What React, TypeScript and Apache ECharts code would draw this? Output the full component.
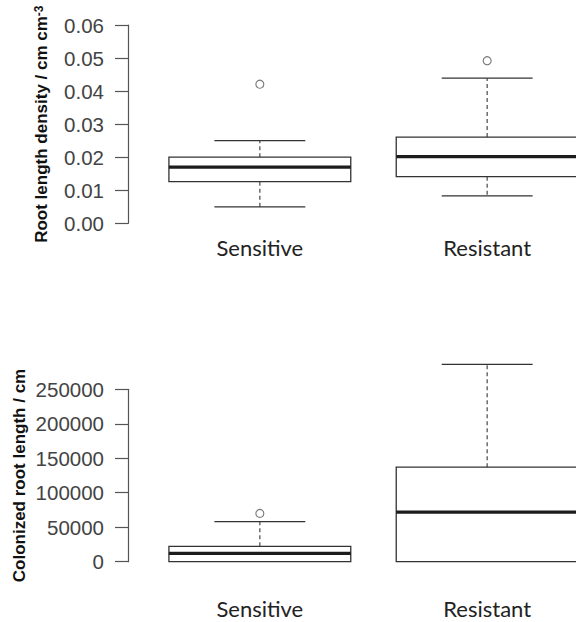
import React, { useEffect, useRef } from "react";
import * as echarts from "echarts";

const categories = ["Sensitive", "Resistant"];

// Root length density (cm cm^-3)
const densityLow = [0.005, 0.0083];
const densityQ1 = [0.0126, 0.0141];
const densityMedian = [0.017, 0.0202];
const densityQ3 = [0.02, 0.0261];
const densityHigh = [0.025, 0.0439];
const densityOutliers: [number, number][] = [
  [1, 0.0421],
  [2, 0.0492],
];

// Colonized root length (cm)
const colonLow = [0, 0];
const colonQ1 = [0, 0];
const colonMedian = [12200, 72000];
const colonQ3 = [22300, 137000];
const colonHigh = [58000, 286000];
const colonOutliers: [number, number][] = [[1, 70000]];

const densityTicks = { min: 0, max: 0.06, interval: 0.01 };
const colonTicks = { min: 0, max: 250000, interval: 50000 };

const boxRows = (lo: number[], q1: number[], md: number[], q3: number[], hi: number[]) =>
  categories.map((_, i) => [i + 1, lo[i], q1[i], md[i], q3[i], hi[i]]);

const renderBox = (params: any, api: any) => {
  const x = api.value(0);
  const pLo = api.coord([x, api.value(1)]);
  const pQ1 = api.coord([x, api.value(2)]);
  const pMd = api.coord([x, api.value(3)]);
  const pQ3 = api.coord([x, api.value(4)]);
  const pHi = api.coord([x, api.value(5)]);
  const half = api.size([0.4, 0])[0];
  const cap = half / 2;
  const cx = pMd[0];
  const whisk = { stroke: "#555", lineWidth: 1.3, lineDash: [4, 3] };
  const solid = { stroke: "#333", lineWidth: 1.3 };
  const children: any[] = [];
  if (pHi[1] < pQ3[1]) {
    children.push({ type: "line", shape: { x1: cx, y1: pQ3[1], x2: cx, y2: pHi[1] }, style: whisk });
    children.push({ type: "line", shape: { x1: cx - cap, y1: pHi[1], x2: cx + cap, y2: pHi[1] }, style: solid });
  }
  if (pLo[1] > pQ1[1]) {
    children.push({ type: "line", shape: { x1: cx, y1: pQ1[1], x2: cx, y2: pLo[1] }, style: whisk });
    children.push({ type: "line", shape: { x1: cx - cap, y1: pLo[1], x2: cx + cap, y2: pLo[1] }, style: solid });
  }
  children.push({
    type: "rect",
    shape: { x: cx - half, y: pQ3[1], width: 2 * half, height: pQ1[1] - pQ3[1] },
    style: { fill: "#fff", stroke: "#333", lineWidth: 1.3 },
  });
  children.push({
    type: "line",
    shape: { x1: cx - half, y1: pMd[1], x2: cx + half, y2: pMd[1] },
    style: { stroke: "#1c1c1c", lineWidth: 3.2 },
  });
  return { type: "group", children };
};

const tickFont = { fontFamily: "Liberation Sans, Arial, sans-serif", fontSize: 20.5, color: "#444" };
const titleBase = { fontFamily: "Liberation Sans, Arial, sans-serif", fontWeight: "bold" as const, color: "#111" };

export default function App() {
  const ref = useRef<HTMLDivElement>(null);
  useEffect(() => {
    if (!ref.current) return;
    const chart = echarts.init(ref.current, undefined, { renderer: "svg" });
    const xAxisBase = (margin: number, gridIndex: number) => ({
      type: "value" as const,
      gridIndex,
      min: 0.42,
      max: 2.58,
      axisLine: { show: false },
      axisTick: { show: false },
      splitLine: { show: false },
      axisLabel: {
        customValues: [1, 2],
        formatter: (v: number) => categories[Math.round(v) - 1] ?? "",
        fontFamily: "Lato, sans-serif",
        fontSize: 22,
        color: "#222",
        margin,
      },
    });
    const yAxisBase = (gridIndex: number, ticks: any, name: string, nameGap: number, rich: any) => ({
      type: "value" as const,
      gridIndex,
      min: ticks.min,
      max: ticks.max,
      interval: ticks.interval,
      axisLine: { show: true, lineStyle: { color: "#555", width: 1.2 } },
      axisTick: { show: true, inside: false, length: 13, lineStyle: { color: "#555", width: 1.2 } },
      splitLine: { show: false },
      axisLabel: {
        ...tickFont,
        margin: 24,
        formatter: (v: number) => (ticks.max < 1 ? v.toFixed(2) : String(v)),
      },
      name,
      nameLocation: "middle" as const,
      nameRotate: 90,
      nameGap,
      nameMoveOverlap: false,
      nameTextStyle: { ...titleBase, fontSize: 17, rich },
    });
    chart.setOption({
      animation: false,
      grid: [
        { left: 128, top: 25, width: 491, height: 198.3, outerBoundsMode: "none", containLabel: false },
        { left: 128, top: 389.3, width: 491, height: 172.4, outerBoundsMode: "none", containLabel: false },
      ],
      xAxis: [xAxisBase(13, 0), xAxisBase(36, 1)],
      yAxis: [
        yAxisBase(0, densityTicks, "{a|Root length density / cm cm}{s|-3}", 78, {
          a: { ...titleBase, fontSize: 17 },
          s: { ...titleBase, fontSize: 12, verticalAlign: "top" },
        }),
        yAxisBase(1, colonTicks, "{a|Colonized root length / cm}", 100, {
          a: { ...titleBase, fontSize: 17 },
        }),
      ],
      series: [
        {
          type: "custom",
          xAxisIndex: 0,
          yAxisIndex: 0,
          clip: false,
          renderItem: renderBox,
          encode: { x: 0, y: [1, 2, 3, 4, 5] },
          data: boxRows(densityLow, densityQ1, densityMedian, densityQ3, densityHigh),
          z: 2,
        },
        {
          type: "scatter",
          xAxisIndex: 0,
          yAxisIndex: 0,
          symbol: "circle",
          symbolSize: 8,
          itemStyle: { color: "#fff", borderColor: "#555", borderWidth: 1.1 },
          data: densityOutliers,
          z: 3,
        },
        {
          type: "custom",
          xAxisIndex: 1,
          yAxisIndex: 1,
          clip: false,
          renderItem: renderBox,
          encode: { x: 0, y: [1, 2, 3, 4, 5] },
          data: boxRows(colonLow, colonQ1, colonMedian, colonQ3, colonHigh),
          z: 2,
        },
        {
          type: "scatter",
          xAxisIndex: 1,
          yAxisIndex: 1,
          symbol: "circle",
          symbolSize: 8,
          itemStyle: { color: "#fff", borderColor: "#555", borderWidth: 1.1 },
          data: colonOutliers,
          z: 3,
        },
      ],
    });
    return () => chart.dispose();
  }, []);
  return (
    <div
      style={{
        position: "absolute",
        left: 0,
        top: 0,
        width: 576,
        height: 622,
        overflow: "hidden",
        background: "#fff",
      }}
    >
      <div ref={ref} style={{ width: 640, height: 622 }} />
    </div>
  );
}
